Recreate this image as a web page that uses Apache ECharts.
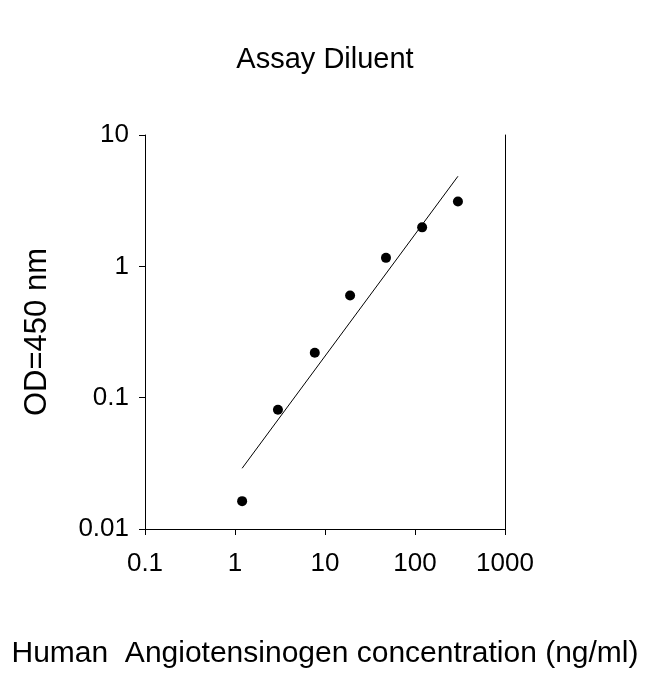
<!DOCTYPE html><html><head><meta charset="utf-8">
<script src="https://cdn.jsdelivr.net/npm/echarts@6/dist/echarts.min.js"></script>
<style>body{margin:0}#c{width:650px;height:674px}</style></head><body><div id="c"></div><script>
const concX=[1.2,3.0,7.7,19,47.6,120,300];
const odY=[0.0163,0.081,0.22,0.6,1.16,1.98,3.12];
const fitX=[1.2,300];
const fitY=[0.029,4.85];
const xTicks=['0.1','1','10','100','1000'];
const yTicks=['0.01','0.1','1','10'];
const chart=echarts.init(document.getElementById('c'));
const font='Liberation Sans, Arial, sans-serif';
chart.setOption({
 animation:false,backgroundColor:'#fff',
 title:{text:'Assay Diluent',left:'center',top:40,textStyle:{fontFamily:font,fontSize:29,fontWeight:'normal',color:'#000'}},
 grid:{left:145,right:145,top:135,bottom:129},
 xAxis:{type:'log',logBase:10,min:0.1,max:1000,
  name:'Human  Angiotensinogen concentration (ng/ml)',nameLocation:'middle',nameGap:110,
  nameTextStyle:{fontFamily:font,fontSize:30,color:'#000'},
  axisLine:{lineStyle:{color:'#000'}},axisTick:{inside:false,length:6,lineStyle:{color:'#000'}},
  splitLine:{show:false},minorTick:{show:false},
  axisLabel:{fontFamily:font,fontSize:26,color:'#000',margin:22,formatter:v=>xTicks.find(t=>Math.abs(parseFloat(t)-v)<1e-6*v)||''}},
 yAxis:[{type:'log',logBase:10,min:0.01,max:10,
  name:'OD=450 nm',nameLocation:'middle',nameGap:92,
  nameTextStyle:{fontFamily:font,fontSize:31,color:'#000'},
  axisLine:{show:true,lineStyle:{color:'#000'}},axisTick:{show:true,length:6,lineStyle:{color:'#000'}},
  splitLine:{show:false},
  axisLabel:{fontFamily:font,fontSize:26,color:'#000',margin:16,formatter:v=>yTicks.find(t=>Math.abs(parseFloat(t)-v)<1e-6*v)||''}},
  {type:'log',logBase:10,min:0.01,max:10,position:'right',
  axisLine:{show:true,lineStyle:{color:'#000'}},axisTick:{show:false},axisLabel:{show:false},splitLine:{show:false}}],
 series:[
  {type:'scatter',data:concX.map((x,i)=>[x,odY[i]]),symbolSize:10,itemStyle:{color:'#000',opacity:1}},
  {type:'line',data:fitX.map((x,i)=>[x,fitY[i]]),symbol:'none',lineStyle:{color:'#000',width:1}}
 ]});
</script></body></html>
